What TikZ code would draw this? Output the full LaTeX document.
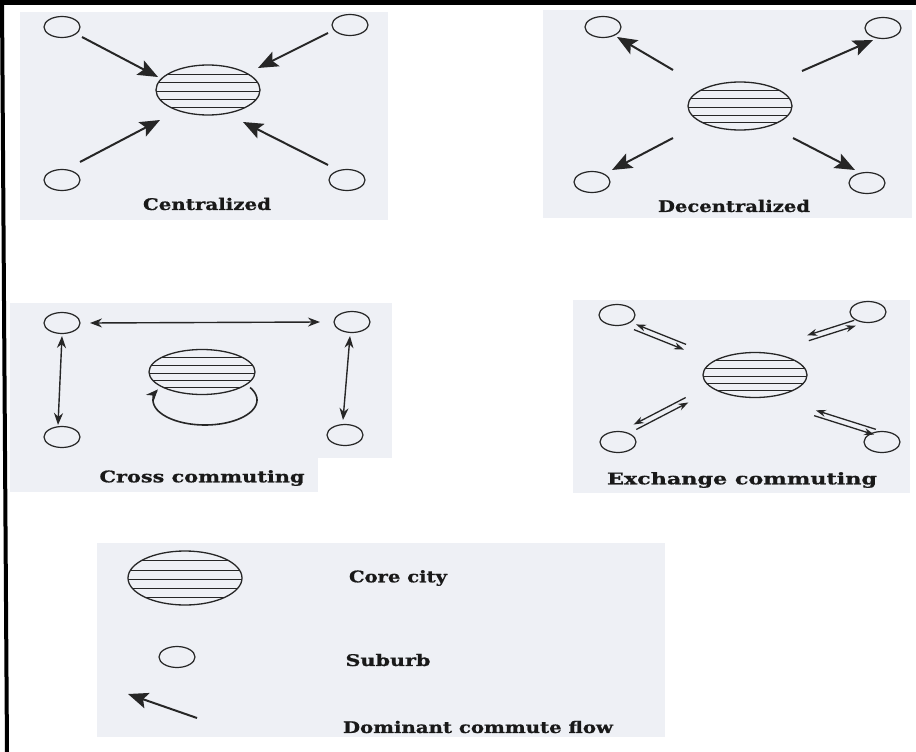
\documentclass[tikz,border=0pt]{standalone}
\usepackage{fontspec}
\setmainfont{DejaVu Serif}
\newfontfamily\lblfont[UprightFont={* Bold}, FakeBold=0.8]{DejaVu Serif}
\usepackage{graphicx}
\usetikzlibrary{shapes.geometric,arrows.meta,calc}
\definecolor{panel}{RGB}{238,240,245}
\definecolor{ink}{RGB}{38,38,38}
\definecolor{txt}{RGB}{25,25,25}
\newcommand{\wlabel}[2]{\resizebox{#1}{\height}{#2}}
\tikzset{
  suburb/.style={ellipse, draw=ink, line width=1.2pt, minimum width=36pt, minimum height=21pt, inner sep=0pt},
  core/.style={ellipse, draw=ink, line width=1.3pt, fill=panel, minimum width=104pt, minimum height=50pt, inner sep=0pt,
    path picture={
      \foreach \k in {0.18,0.35,0.52,0.69,0.85}
        \draw[ink, line width=0.8pt]
          ($(path picture bounding box.north west)!\k!(path picture bounding box.south west)$) --
          ($(path picture bounding box.north east)!\k!(path picture bounding box.south east)$);
    }},
  flow/.style={draw=ink, line width=2pt, -{Stealth[length=20pt,width=16pt,inset=4pt]}},
  cross/.style={draw=ink, line width=1.4pt, {Stealth[length=12pt,width=9pt]}-{Stealth[length=12pt,width=9pt]}},
  ex/.style={draw=ink, line width=1.3pt, -{Stealth[length=10pt,width=7pt]}},
  loopst/.style={draw=ink, line width=1.6pt, -{Stealth[length=12pt,width=10pt]}},
  lbl/.style={inner sep=0pt, text=txt, font=\fontsize{16}{19}\lblfont},
  panelbg/.style={fill=panel, draw=none},
}
\begin{document}
\begin{tikzpicture}[x=1pt,y=-1pt]
\useasboundingbox (0,0) rectangle (916,752);
\fill[white] (0,0) rectangle (916,752);
% frame
\fill[black] (0,0) rectangle (916,5);
\fill[black] (0,0) -- (4,0) -- (9,752) -- (5,752) -- cycle;
% panels
\path[panelbg] (20,12) rectangle (388,220);
\path[panelbg] (543,10) rectangle (912,218);
\path[panelbg] (10,303) rectangle (392,458);
\path[panelbg] (10,458) rectangle (318,492);
\path[panelbg] (573,300) rectangle (910,493);
\path[panelbg] (97,543) rectangle (665,737);

% ---------- Centralized ----------
\node[suburb] (c-tl) at (62,27) {};
\node[suburb] (c-tr) at (350,25) {};
\node[suburb] (c-bl) at (62,180) {};
\node[suburb] (c-br) at (347,180) {};
\node[core] (c-core) at (208,90) {};
\coordinate (c-1s) at (82,37);   \coordinate (c-1e) at (158,77);
\coordinate (c-2s) at (328,33);  \coordinate (c-2e) at (258,68);
\coordinate (c-3s) at (80,162);  \coordinate (c-3e) at (160,120);
\coordinate (c-4s) at (328,165); \coordinate (c-4e) at (243,122);
\draw[flow] (c-1s) -- (c-1e);
\draw[flow] (c-2s) -- (c-2e);
\draw[flow] (c-3s) -- (c-3e);
\draw[flow] (c-4s) -- (c-4e);
\node[lbl] (c-lbl) at (207,204) {\wlabel{128pt}{Centralized}};

% ---------- Decentralized ----------
\node[suburb] (d-tl) at (603,27) {};
\node[suburb] (d-tr) at (883,28) {};
\node[suburb] (d-bl) at (592,182) {};
\node[suburb] (d-br) at (867,183) {};
\node[core, minimum height=48pt] (d-core) at (740,106) {};
\coordinate (d-1s) at (673,70);  \coordinate (d-1e) at (617,37);
\coordinate (d-2s) at (802,71);  \coordinate (d-2e) at (873,40);
\coordinate (d-3s) at (673,138); \coordinate (d-3e) at (612,170);
\coordinate (d-4s) at (793,138); \coordinate (d-4e) at (855,170);
\draw[flow] (d-1s) -- (d-1e);
\draw[flow] (d-2s) -- (d-2e);
\draw[flow] (d-3s) -- (d-3e);
\draw[flow] (d-4s) -- (d-4e);
\node[lbl] (d-lbl) at (734,206) {\wlabel{152pt}{Decentralized}};

% ---------- Cross commuting ----------
\node[suburb] (k-tl) at (62,323) {};
\node[suburb] (k-tr) at (352,322) {};
\node[suburb] (k-bl) at (62,437) {};
\node[suburb] (k-br) at (345,435) {};
\coordinate (k-h1) at (90,323);  \coordinate (k-h2) at (320,322);
\coordinate (k-l1) at (62,336);  \coordinate (k-l2) at (58,425);
\coordinate (k-r1) at (350,336); \coordinate (k-r2) at (343,420);
\draw[cross] (k-h1) -- (k-h2);
\draw[cross] (k-l1) -- (k-l2);
\draw[cross] (k-r1) -- (k-r2);
\draw[loopst] plot[domain=-30:205, samples=70, smooth] ({205+52*cos(\x)}, {400+25*sin(\x)});
\node[core, minimum width=106pt, minimum height=45pt] (k-core) at (202,372) {};
\node[lbl] (k-lbl) at (202,478) {\wlabel{205pt}{Cross commuting}};

% ---------- Exchange commuting ----------
\node[suburb] (x-tl) at (617,315) {};
\node[suburb] (x-tr) at (868,312) {};
\node[suburb] (x-bl) at (618,442) {};
\node[suburb] (x-br) at (882,442) {};
\node[core, minimum height=45pt] (x-core) at (755,375) {};
\foreach \n/\ax/\ay/\bx/\by in {tl/635/327/685/347, tr/855/323/808/338, bl/635/427/687/400, br/875/432/815/413}{
  \coordinate (x-\n-a) at (\ax,\ay);
  \coordinate (x-\n-b) at (\bx,\by);
  \draw[ex] ($(x-\n-b)!2.8pt!-90:(x-\n-a)$) -- ($(x-\n-a)!2.8pt!90:(x-\n-b)$);
  \draw[ex] ($(x-\n-a)!2.8pt!-90:(x-\n-b)$) -- ($(x-\n-b)!2.8pt!90:(x-\n-a)$);
}
\node[lbl] (x-lbl) at (742,480) {\wlabel{270pt}{Exchange commuting}};

% ---------- Legend ----------
\node[core, minimum width=114pt, minimum height=54pt] (l-core) at (185,578) {};
\node[suburb] (l-sub) at (177,657) {};
\coordinate (l-as) at (197,718); \coordinate (l-ae) at (128,694);
\draw[flow] (l-as) -- (l-ae);
\node[lbl] (l-t1) at (398,578) {\wlabel{98pt}{Core city}};
\node[lbl] (l-t2) at (388,660) {\wlabel{85pt}{Suburb}};
\node[lbl] (l-t3) at (478,727) {\wlabel{270pt}{Dominant commute flow}};
\end{tikzpicture}
\end{document}
